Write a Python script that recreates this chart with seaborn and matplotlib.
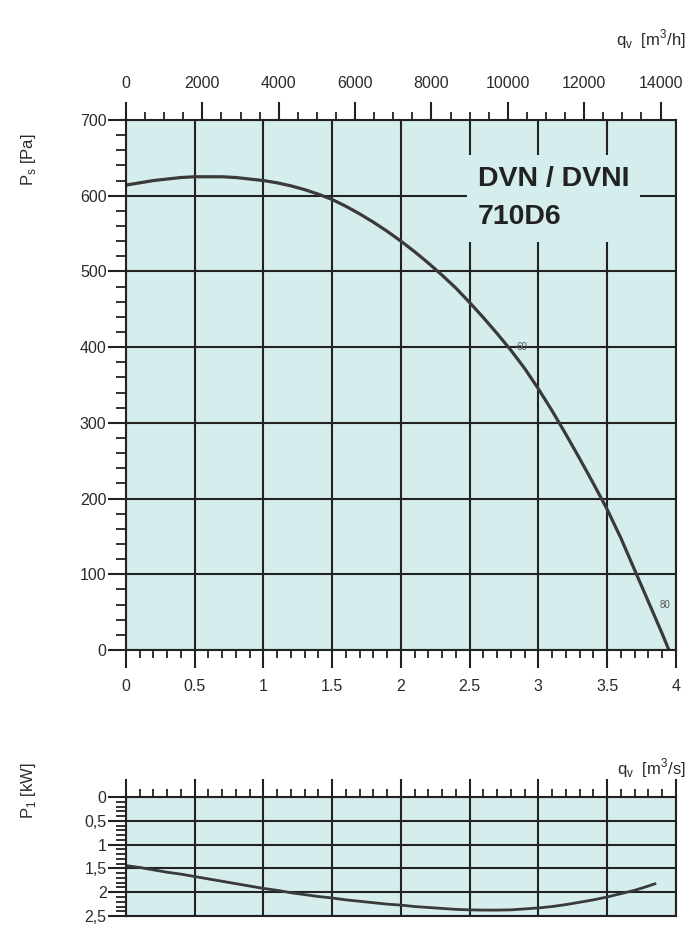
import matplotlib
matplotlib.use("Agg")
import matplotlib.pyplot as plt
import pandas as pd
import seaborn as sns
from matplotlib.ticker import MultipleLocator, FixedLocator, FixedFormatter

# %% data
q_ps = [0.0, 0.1, 0.2, 0.3, 0.4, 0.5, 0.6, 0.7, 0.8, 0.9, 1.0, 1.1, 1.2, 1.3, 1.4,
        1.5, 1.6, 1.7, 1.8, 1.9, 2.0, 2.1, 2.2, 2.3, 2.4, 2.5, 2.6, 2.7, 2.8, 2.9,
        3.0, 3.1, 3.2, 3.3, 3.4, 3.5, 3.6, 3.7, 3.8, 3.9, 3.95]
ps = [614, 617, 620, 622, 624, 625, 625, 625, 624, 622, 620, 617, 613, 608, 602,
      595, 586, 576, 565, 553, 540, 526, 511, 495, 478, 459, 439, 418, 396, 372,
      345, 316, 285, 253, 220, 186, 148, 106, 64, 22, 0]

q_p1 = [0.0, 0.1, 0.2, 0.3, 0.4, 0.5, 0.6, 0.7, 0.8, 0.9, 1.0, 1.1, 1.2, 1.3, 1.4,
        1.5, 1.6, 1.7, 1.8, 1.9, 2.0, 2.1, 2.2, 2.3, 2.4, 2.5, 2.6, 2.7, 2.8, 2.9,
        3.0, 3.1, 3.2, 3.3, 3.4, 3.5, 3.6, 3.7, 3.8, 3.85]
p1 = [1.44, 1.48, 1.53, 1.58, 1.62, 1.67, 1.72, 1.77, 1.82, 1.87, 1.92, 1.96, 2.01,
      2.05, 2.09, 2.12, 2.16, 2.19, 2.22, 2.25, 2.27, 2.30, 2.32, 2.34, 2.36, 2.37,
      2.375, 2.375, 2.37, 2.35, 2.33, 2.30, 2.26, 2.21, 2.16, 2.10, 2.03, 1.96,
      1.87, 1.82]

x_ticks = [0, 0.5, 1, 1.5, 2, 2.5, 3, 3.5, 4]
x_labels = ["0", "0.5", "1", "1.5", "2", "2.5", "3", "3.5", "4"]
top_ticks = [0, 2000, 4000, 6000, 8000, 10000, 12000, 14000]
p1_ticks = [0, 0.5, 1, 1.5, 2, 2.5]
p1_labels = ["0", "0,5", "1", "1,5", "2", "2,5"]
eff_q = [2.88, 3.92]
eff_ps = [400, 60]
eff_txt = ["60", "80"]

main = pd.DataFrame({"q": q_ps, "ps": ps})
power = pd.DataFrame({"q": q_p1, "p1": p1})

# %%
sns.set_theme(style="ticks")
plt.rcParams["font.family"] = ["Liberation Sans", "DejaVu Sans"]
plt.rcParams["text.color"] = "#2a2a2a"
plt.rcParams["axes.labelcolor"] = "#2a2a2a"
plt.rcParams["xtick.color"] = "#2a2a2a"
plt.rcParams["ytick.color"] = "#2a2a2a"

bg = "#d6eded"
ink = "#222222"
curve = "#3a3a3a"

fig = plt.figure(figsize=(6.96, 9.3), dpi=100)
ax = fig.add_axes([0.181, 0.301, 0.790, 0.570])
ax2 = fig.add_axes([0.181, 0.015, 0.790, 0.128])

for a in (ax, ax2):
    a.set_facecolor(bg)
    a.grid(True, which="major", color=ink, linewidth=1.5)
    a.set_axisbelow(True)
    for s in a.spines.values():
        s.set_color(ink)
        s.set_linewidth(1.5)
    a.set_xlim(0, 4)
    a.xaxis.set_major_locator(FixedLocator(x_ticks))
    a.xaxis.set_minor_locator(MultipleLocator(0.1))
    a.tick_params(axis="y", which="major", direction="out", length=13, width=1.5,
                  color=ink, labelsize=11.5, pad=1)
    a.tick_params(axis="y", which="minor", direction="out", length=7, width=1.3, color=ink)

# main curve
sns.lineplot(data=main, x="q", y="ps", ax=ax, color=curve, linewidth=2.3)
ax.set_ylim(0, 700)
ax.yaxis.set_major_locator(MultipleLocator(100))
ax.yaxis.set_minor_locator(MultipleLocator(20))
ax.xaxis.set_major_formatter(FixedFormatter(x_labels))
ax.tick_params(axis="x", which="major", direction="out", length=13, width=1.5,
               color=ink, labelsize=11.5, pad=8)
ax.tick_params(axis="x", which="minor", direction="out", length=6, width=1.3, color=ink)
ax.set_xlabel("")
ax.set_ylabel(r"P$_\mathregular{s}$ [Pa]", fontsize=12)
ax.yaxis.set_label_coords(-0.16, 0.925)

for xq, yp, t in zip(eff_q, eff_ps, eff_txt):
    ax.text(xq, yp, t, fontsize=7, color="#555555", ha="center", va="center")

ax.text(0.64, 0.852, "DVN / DVNI\n710D6", transform=ax.transAxes, fontsize=20.5,
        fontweight="bold", ha="left", va="center", linespacing=1.6, color=ink,
        bbox=dict(facecolor=bg, edgecolor="none", pad=8))

top = ax.secondary_xaxis("top", functions=(lambda q: q * 3600, lambda h: h / 3600))
top.xaxis.set_major_locator(FixedLocator(top_ticks))
top.xaxis.set_minor_locator(MultipleLocator(500))
top.tick_params(which="major", direction="out", length=13, width=1.5, color=ink,
                labelsize=11.5, pad=8)
top.tick_params(which="minor", direction="out", length=6, width=1.3, color=ink)
fig.text(0.985, 0.958, r"q$_\mathregular{v}$  [m$^\mathregular{3}$/h]", ha="right",
         va="center", fontsize=12)

# power curve
sns.lineplot(data=power, x="q", y="p1", ax=ax2, color=curve, linewidth=2.0)
ax2.set_ylim(2.5, 0)
ax2.yaxis.set_major_locator(FixedLocator(p1_ticks))
ax2.yaxis.set_major_formatter(FixedFormatter(p1_labels))
ax2.yaxis.set_minor_locator(MultipleLocator(0.1))
ax2.xaxis.tick_top()
ax2.tick_params(axis="x", which="major", direction="out", length=13, width=1.5,
                color=ink, labeltop=False, labelbottom=False)
ax2.tick_params(axis="x", which="minor", direction="out", length=6, width=1.3, color=ink)
ax2.set_xlabel("")
ax2.set_ylabel(r"P$_\mathregular{1}$ [kW]", fontsize=12)
ax2.yaxis.set_label_coords(-0.16, 1.05)
fig.text(0.985, 0.174, r"q$_\mathregular{v}$  [m$^\mathregular{3}$/s]", ha="right",
         va="center", fontsize=12)

fig.savefig("out.png", dpi=100, facecolor="white")
